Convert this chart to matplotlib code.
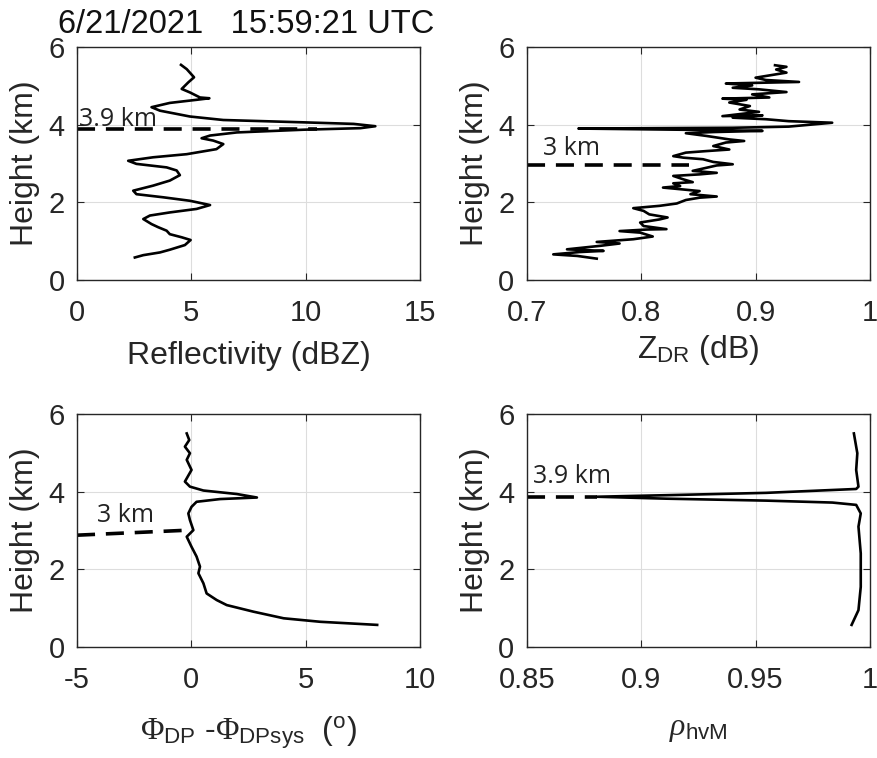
import matplotlib
matplotlib.use("Agg")
import matplotlib.pyplot as plt

plt.rcParams["font.family"] = ["Liberation Sans", "DejaVu Sans"]
plt.rcParams["mathtext.fontset"] = "custom"
plt.rcParams["mathtext.rm"] = "Liberation Sans"
plt.rcParams["mathtext.it"] = "Liberation Serif:italic"
plt.rcParams["mathtext.sf"] = "Liberation Serif"

# reflectivity profile (dBZ vs km)
refl_x = [4.55, 4.8, 5.12, 4.87, 4.58, 4.94, 5.38, 5.79, 5.23, 4.06, 3.26, 3.63,
          4.94, 6.4, 9.9, 12.1, 13.05, 12.4, 9.9, 6.99, 5.82, 5.45, 5.96, 6.4,
          6.1, 4.8, 3.33, 2.24, 2.6, 3.92, 4.36, 4.5, 4.06, 3.33, 2.46, 2.6,
          3.77, 4.94, 5.82, 5.23, 4.06, 3.19, 2.9, 3.26, 3.55, 3.92, 4.06, 4.58,
          4.97, 4.72, 4.06, 3.63, 2.9, 2.53]
refl_h = [5.54, 5.43, 5.22, 5.09, 4.92, 4.83, 4.70, 4.68, 4.64, 4.56, 4.45, 4.36,
          4.21, 4.12, 4.06, 4.02, 3.96, 3.91, 3.87, 3.80, 3.72, 3.65, 3.59, 3.50,
          3.37, 3.24, 3.16, 3.07, 2.99, 2.90, 2.82, 2.70, 2.56, 2.43, 2.30, 2.21,
          2.13, 2.04, 1.93, 1.83, 1.74, 1.66, 1.57, 1.44, 1.36, 1.27, 1.18, 1.10,
          1.03, 0.90, 0.78, 0.71, 0.64, 0.58]

# differential reflectivity profile (dB vs km)
zdr_x = [0.761, 0.744, 0.723, 0.746, 0.767, 0.735, 0.764, 0.781, 0.761, 0.793,
         0.810, 0.799, 0.781, 0.805, 0.822, 0.802, 0.799, 0.816, 0.823, 0.807,
         0.802, 0.793, 0.816, 0.831, 0.839, 0.851, 0.866, 0.843, 0.851, 0.837,
         0.819, 0.834, 0.828, 0.845, 0.837, 0.828, 0.851, 0.866, 0.845, 0.857,
         0.866, 0.880, 0.863, 0.854, 0.837, 0.828, 0.839, 0.857, 0.877, 0.863,
         0.874, 0.890, 0.877, 0.857, 0.839, 0.863, 0.906, 0.863, 0.745, 0.880,
         0.929, 0.967, 0.929, 0.909, 0.880, 0.906, 0.871, 0.903, 0.886, 0.895,
         0.877, 0.892, 0.871, 0.912, 0.897, 0.927, 0.903, 0.880, 0.897, 0.874,
         0.938, 0.909, 0.900, 0.927, 0.918, 0.927, 0.917]
zdr_h = [0.55, 0.62, 0.66, 0.72, 0.75, 0.79, 0.88, 0.94, 0.98, 1.05,
         1.12, 1.22, 1.26, 1.30, 1.31, 1.39, 1.48, 1.56, 1.61, 1.69,
         1.78, 1.85, 1.91, 1.97, 2.06, 2.12, 2.15, 2.21, 2.29, 2.33,
         2.38, 2.42, 2.49, 2.52, 2.59, 2.68, 2.72, 2.76, 2.81, 2.89,
         2.95, 2.98, 3.04, 3.11, 3.15, 3.19, 3.28, 3.32, 3.36, 3.45,
         3.54, 3.58, 3.62, 3.71, 3.78, 3.81, 3.84, 3.86, 3.90, 3.92,
         3.95, 4.05, 4.09, 4.14, 4.18, 4.24, 4.22, 4.33, 4.39, 4.48,
         4.57, 4.64, 4.67, 4.70, 4.78, 4.84, 4.91, 4.95, 5.01, 5.06,
         5.10, 5.15, 5.21, 5.34, 5.42, 5.49, 5.53]

# differential phase minus system phase (deg vs km)
phi_x = [-0.2, -0.09, -0.28, -0.06, -0.2, 0.01, -0.28, -0.06, 0.53, 1.99, 2.87,
         1.26, 0.23, 0.01, -0.13, -0.06, 0.09, -0.2, 0.01, 0.23, 0.38, 0.31,
         0.53, 0.67, 1.11, 1.55, 2.72, 4.04, 5.64, 8.13]
phi_h = [5.50, 5.33, 5.16, 4.99, 4.82, 4.56, 4.26, 4.13, 4.03, 3.94, 3.85,
         3.81, 3.74, 3.61, 3.44, 3.27, 3.01, 2.84, 2.58, 2.33, 2.07, 1.90,
         1.64, 1.38, 1.21, 1.08, 0.91, 0.74, 0.65, 0.57]

# co-polar correlation coefficient (vs km)
rho_x = [0.993, 0.9945, 0.994, 0.995, 0.994, 0.9546, 0.911, 0.8805, 0.911,
         0.9546, 0.9836, 0.994, 0.996, 0.995, 0.996, 0.996, 0.995, 0.992]
rho_h = [5.50, 4.99, 4.56, 4.13, 4.07, 3.97, 3.91, 3.87, 3.82, 3.77, 3.72,
         3.66, 3.44, 3.10, 2.41, 1.55, 0.95, 0.57]

# marked melting-layer heights: (x0, x1, h0, h1, label, label_x, label_h)
refl_mark = (0, 10.5, 3.89, 3.89, "3.9 km", 0.1, 3.97)
zdr_mark = (0.7, 0.842, 2.95, 2.95, "3 km", 0.714, 3.21)
phi_mark = (-5, -0.1, 2.88, 3.01, "3 km", -4.14, 3.23)
rho_mark = (0.85, 0.8805, 3.87, 3.87, "3.9 km", 0.8526, 4.23)

fig = plt.figure(figsize=(8.77, 7.58), dpi=100)

panels = [
    ([0.0878, 0.6306, 0.391, 0.3074], refl_x, refl_h, refl_mark, (0, 15), [0, 5, 10, 15],
     ["0", "5", "10", "15"], "Reflectivity (dBZ)", 10),
    ([0.6009, 0.6306, 0.391, 0.3074], zdr_x, zdr_h, zdr_mark, (0.7, 1), [0.7, 0.8, 0.9, 1],
     ["0.7", "0.8", "0.9", "1"], r"Z$_{\rm DR}$ (dB)", 4),
    ([0.0878, 0.1464, 0.391, 0.3074], phi_x, phi_h, phi_mark, (-5, 10), [-5, 0, 5, 10],
     ["-5", "0", "5", "10"],
     r"$\mathsf{\Phi}_{\rm DP}$ -$\mathsf{\Phi}_{\rm DPsys}$  ($^{\rm o}$)", 14),
    ([0.6009, 0.1464, 0.391, 0.3074], rho_x, rho_h, rho_mark, (0.85, 1), [0.85, 0.9, 0.95, 1],
     ["0.85", "0.9", "0.95", "1"], r"$\rho_{\rm hvM}$", 14),
]

for rect, xs, hs, mark, xlim, xt, xtl, xlabel, lpad in panels:
    ax = fig.add_axes(rect)
    ax.plot(xs, hs, color="black", lw=1.9)
    x0, x1, h0, h1, txt, tx, th = mark
    ax.plot([x0, x1], [h0, h1], color="black", lw=2.6, ls=(0, (5, 3)))
    ax.text(tx, th, txt, fontsize=18, family="Open Sans", color="#222222", va="baseline")
    ax.set_xlim(*xlim)
    ax.set_ylim(0, 6)
    ax.set_xticks(xt)
    ax.set_xticklabels(xtl)
    ax.set_yticks([0, 2, 4, 6])
    ax.grid(True, color="#dddddd", lw=0.8)
    ax.tick_params(direction="in", top=True, right=True, labelsize=21, length=5,
                   color="#262626", labelcolor="#262626")
    ax.tick_params(axis="x", pad=14)
    ax.tick_params(axis="y", pad=9)
    for s in ax.spines.values():
        s.set_color("#262626")
        s.set_linewidth(1.0)
    ax.set_xlabel(xlabel, fontsize=23, color="#262626", labelpad=lpad)
    ax.set_ylabel("Height (km)", fontsize=23, color="#262626", labelpad=6)

fig.text(0.066, 0.956, "6/21/2021   15:59:21 UTC", fontsize=23.5, color="#111111",
         va="baseline")

fig.savefig("out.png", dpi=100)
